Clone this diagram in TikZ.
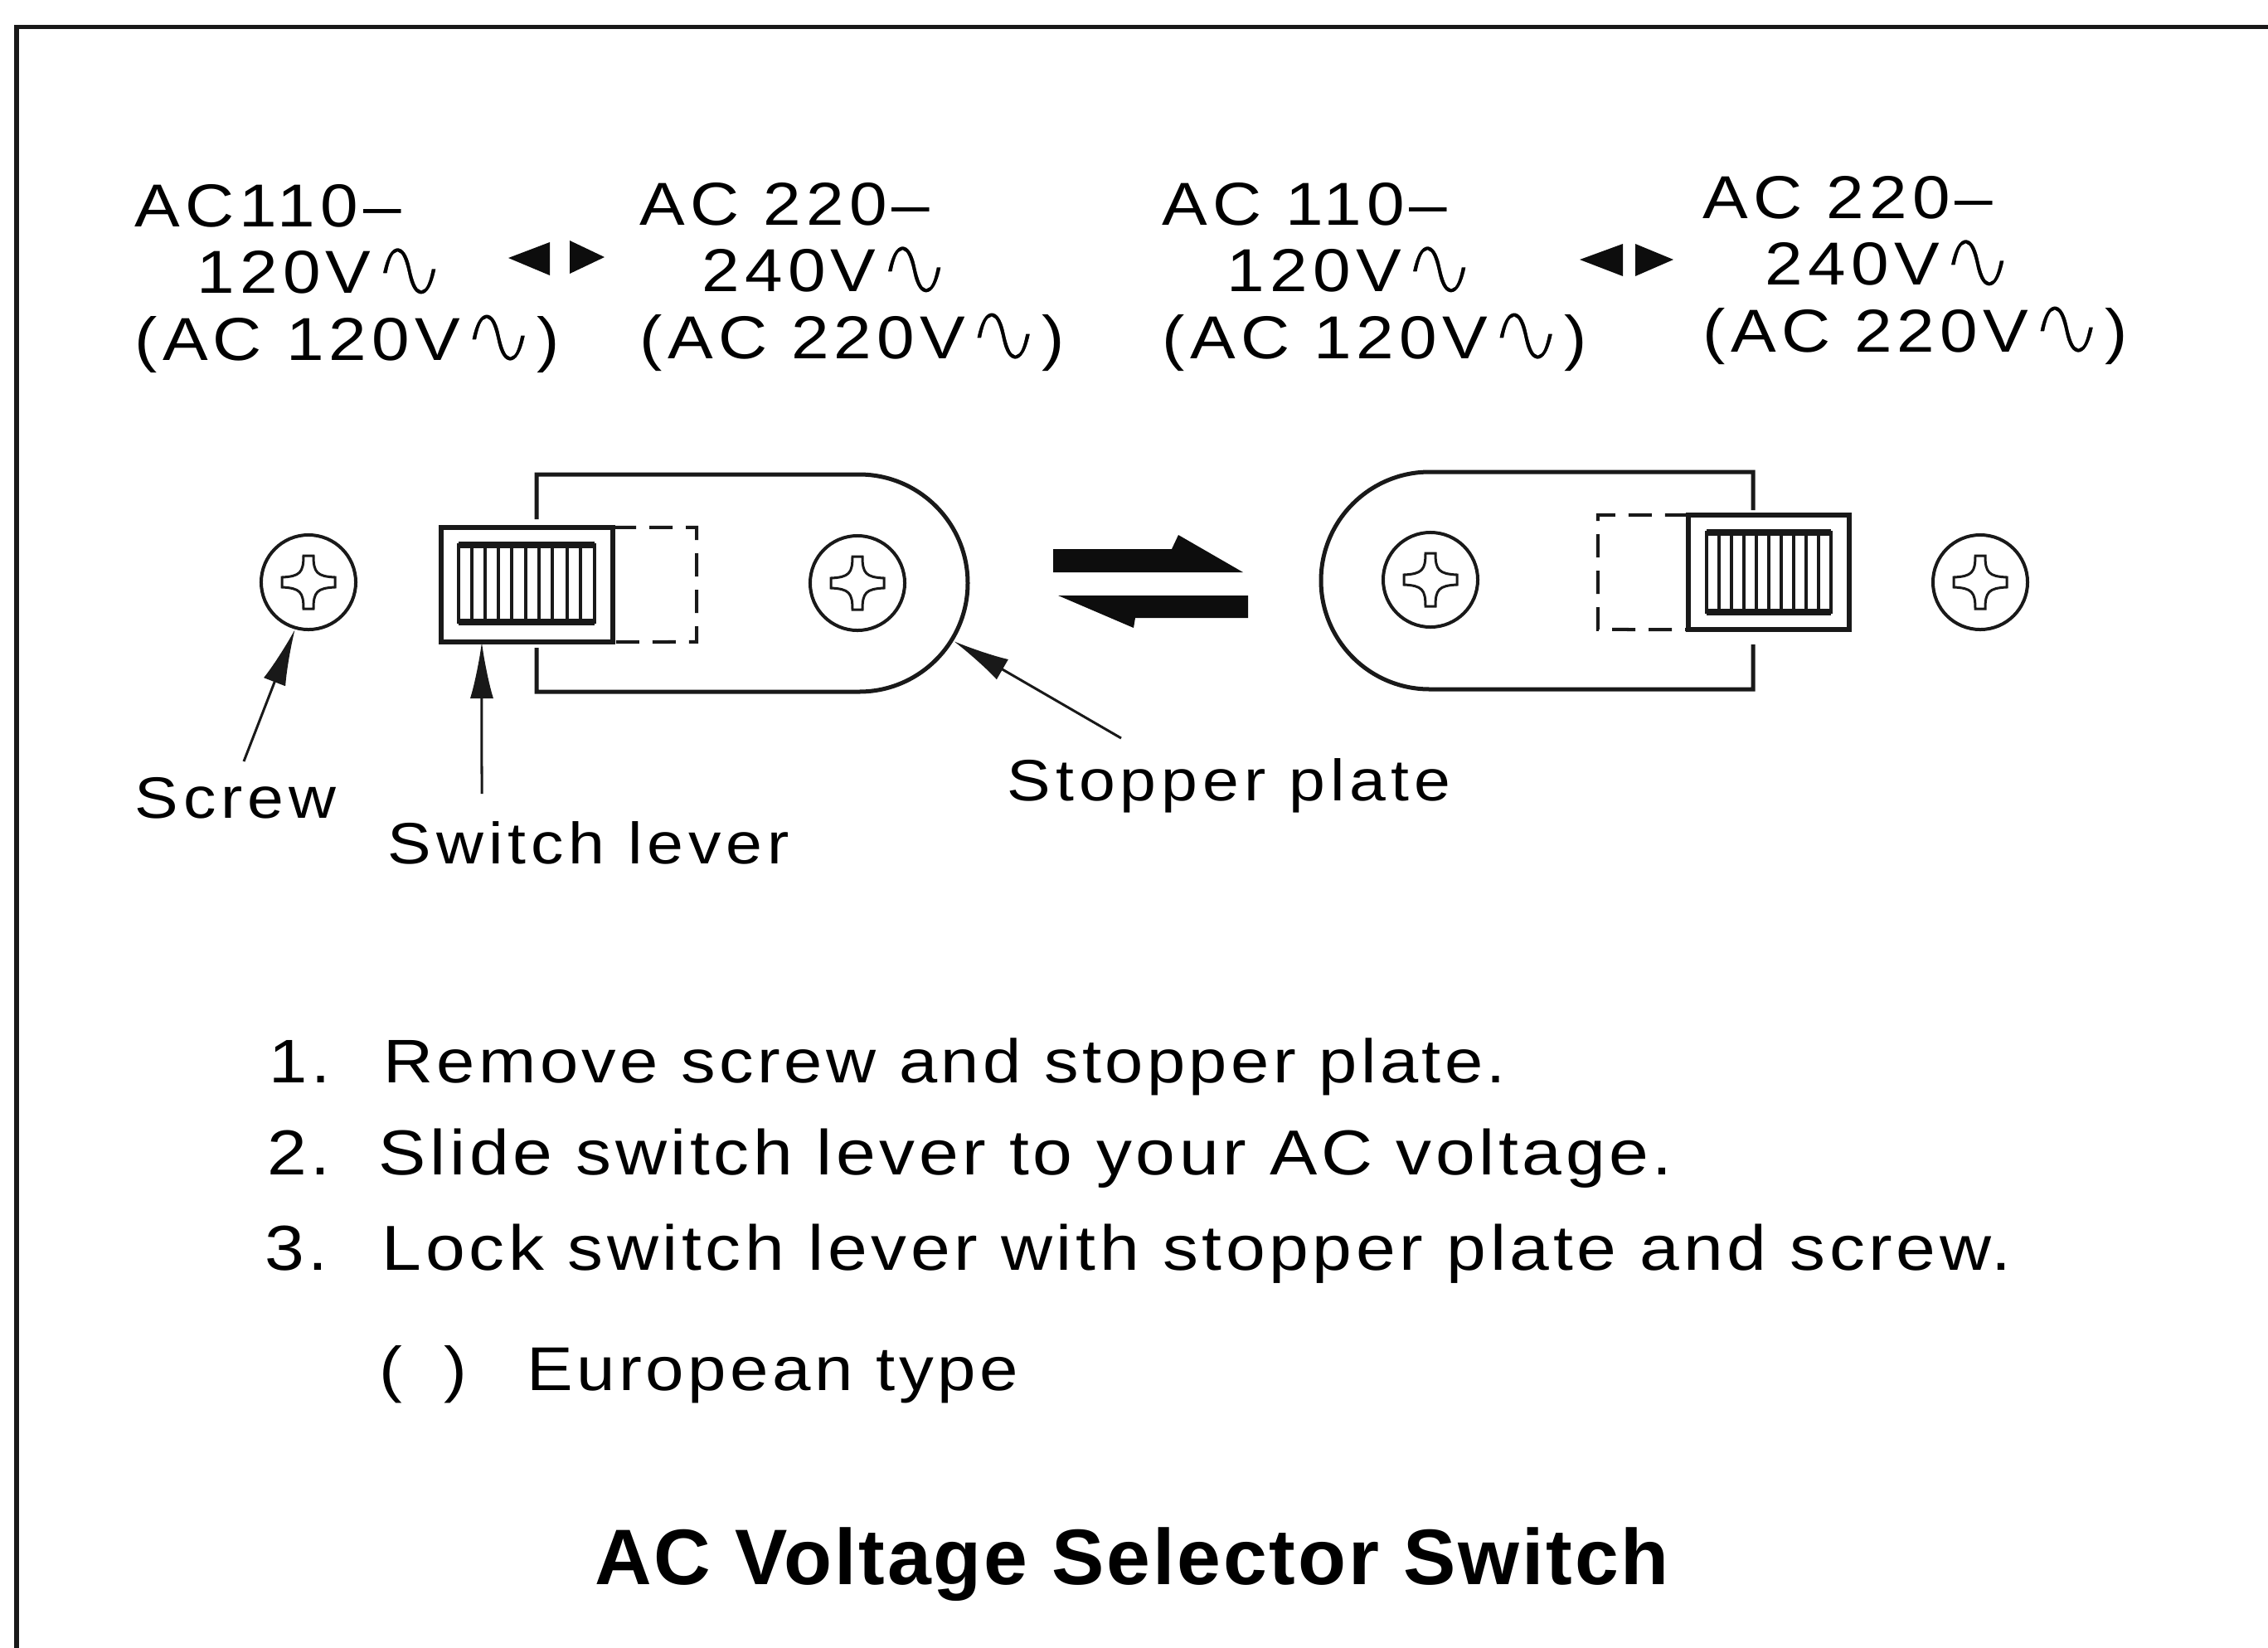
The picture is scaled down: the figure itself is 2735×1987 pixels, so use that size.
\documentclass[tikz,border=0pt]{standalone}
\usepackage{fontspec}
\usepackage{graphicx}
\usetikzlibrary{arrows.meta}
\setmainfont[LetterSpace=6,FakeStretch=1.12]{Liberation Sans}
\newfontfamily\widefont[LetterSpace=8.5,FakeStretch=1.12]{Liberation Sans}
\newfontfamily\titlefont[LetterSpace=3]{Liberation Sans}
\newfontfamily\symfont{DejaVu Sans}
\newcommand{\acsine}{\raisebox{-0.1em}{\smash{\scalebox{1.5}{\special{pdf:code 1 1 1 RG 2 Tr 0.8 w}\symfont ∿\special{pdf:code 0 G 0 Tr 0.4 w}}}}}
\begin{document}
\begin{tikzpicture}[
    x=0.01cm, y=-0.01cm,
    ink/.style={draw=black!90, line width=0.05cm},
    volt/.style={anchor=north west, inner sep=0pt, align=left, font=\widefont\fontsize{20.8}{22.8}\selectfont},
    callout/.style={anchor=base west, inner sep=0pt, font=\widefont\fontsize{20}{22}\selectfont},
    steptxt/.style={anchor=base west, inner sep=0pt, font=\fontsize{21.5}{24}\selectfont},
    screw/.style={circle, draw=black!90, line width=0.04cm, minimum size=1.14cm, inner sep=0pt},
    lever/.style={rectangle, draw=black!90, line width=0.06cm, inner sep=0pt, outer sep=0pt, minimum height=1.38cm},
    pointer/.style={draw=black!90, line width=0.03cm, -{Latex[length=0.68cm, width=0.28cm]}},
    stub/.style={draw=black!90, line width=0.04cm, dash pattern=on 0.28cm off 0.16cm},
    flag/.style={fill=black!95},
    pics/screwcross/.style={code={
        \draw[black!90, line width=0.03cm] (-6,-32) -- (6,-32) .. controls (6,-12) and (10,-7) .. (32,-6) -- (32,6)
            .. controls (10,7) and (6,12) .. (6,32) -- (-6,32) .. controls (-6,12) and (-10,7) .. (-32,6)
            -- (-32,-6) .. controls (-10,-7) and (-6,-12) .. (-6,-32) -- cycle;
    }}
]
    \useasboundingbox (0,0) rectangle (2735,1987);

    \draw[ink] (2735,32) -- (20,32) -- (20,1987);

    \node[volt] (voltA) at (162,222) {AC110–\\\hspace{0.75cm}120V\acsine\\(AC 120V\acsine)};
    \node[volt] (voltB) at (771,220) {AC 220–\\\hspace{0.75cm}240V\acsine\\(AC 220V\acsine)};
    \node[volt] (voltC) at (1401,220) {AC 110–\\\hspace{0.78cm}120V\acsine\\(AC 120V\acsine)};
    \node[volt] (voltD) at (2053,212) {AC 220–\\\hspace{0.75cm}240V\acsine\\(AC 220V\acsine)};

    \fill[flag] (613,311) -- (663,292) -- (663,332) -- cycle;
    \fill[flag] (729,310) -- (687,290) -- (687,330) -- cycle;
    \fill[flag] (1905,313) -- (1957,294) -- (1957,333) -- cycle;
    \fill[flag] (2018,313) -- (1972,294) -- (1972,333) -- cycle;

    \draw[ink] (647,626) -- (647,572) -- (1036,572) arc[start angle=-90, end angle=90, radius=131] -- (647,834) -- (647,781);
    \draw[ink] (2114,615) -- (2114,569) -- (1724,569) arc[start angle=270, end angle=90, radius=131] -- (2114,831) -- (2114,777);

    \node[screw] (screwA) at (372,702) {};
    \node[screw] (screwB) at (1034,703) {};
    \node[screw] (screwC) at (1725,699) {};
    \node[screw] (screwD) at (2388,702) {};
    \pic at (screwA) {screwcross};
    \pic at (screwB) {screwcross};
    \pic at (screwC) {screwcross};
    \pic at (screwD) {screwcross};

    \node[lever, minimum width=2.07cm] (leverA) at (635.5,705) {};
    \node[lever, minimum width=1.94cm] (leverB) at (2133,690) {};

    \draw[stub] (leverA.north east) -- ++(101,0) -- ++(0,138) -- (leverA.south east);
    \draw[stub] (leverB.north west) -- ++(-109,0) -- ++(0,138) -- (leverB.south west);

    \draw[ink, line width=0.04cm] (553,657) rectangle (717,750);
    \draw[ink, line width=0.08cm] (553,657) -- (717,657);
    \draw[ink, line width=0.08cm] (553,750) -- (717,750);
    \foreach \gx in {569,585,601,617,634,650,666,684,700}
        \draw[black!90, line width=0.04cm] (\gx,657) -- (\gx,750);
    \draw[ink, line width=0.04cm] (2058,642) rectangle (2208,738);
    \draw[ink, line width=0.08cm] (2058,642) -- (2208,642);
    \draw[ink, line width=0.08cm] (2058,738) -- (2208,738);
    \foreach \gx in {2073,2088,2103,2118,2133,2148,2163,2178,2193}
        \draw[black!90, line width=0.04cm] (\gx,642) -- (\gx,738);

    \fill[flag] (1270,662) -- (1413,662) -- (1421,645) -- (1499,690) -- (1270,690) -- cycle;
    \fill[flag] (1505,718) -- (1276,718) -- (1367,757) -- (1369,745) -- (1505,745) -- cycle;

    \node[callout] (screwlbl) at (162,986) {Screw};
    \node[callout] (leverlbl) at (467,1041) {Switch lever};
    \node[callout] (stopperlbl) at (1214,965) {Stopper plate};

    \coordinate (screwtail) at (294,918);
    \coordinate (levertail) at (581,957);
    \coordinate (stoppertail) at (1352,890);
    \coordinate (stoppertip) at (1150,773);

    \draw[pointer] (screwtail) -- (screwA.-106);
    \draw[pointer] (levertail) -- ([xshift=0.49cm]leverA.south west);
    \draw[pointer] (stoppertail) -- (stoppertip);

    \node[steptxt, font=\fontsize{21.1}{24}\selectfont] (stepA) at (324,1305) {1.\hspace{0.64cm}Remove screw and stopper plate.};
    \node[steptxt, font=\fontsize{21.8}{24}\selectfont] (stepB) at (322,1416) {2.\hspace{0.58cm}Slide switch lever to your AC voltage.};
    \node[steptxt, font=\fontsize{21.8}{24}\selectfont] (stepC) at (319,1531) {3.\hspace{0.65cm}Lock switch lever with stopper plate and screw.};
    \node[steptxt, font=\fontsize{21.2}{24}\selectfont] (note) at (457,1676) {(\hspace{0.5cm})\hspace{0.72cm}European type};

    \node[anchor=base, inner sep=0pt, font=\titlefont\fontsize{27}{30}\selectfont\bfseries] (title) at (1365,1910) {AC Voltage Selector Switch};
\end{tikzpicture}
\end{document}
